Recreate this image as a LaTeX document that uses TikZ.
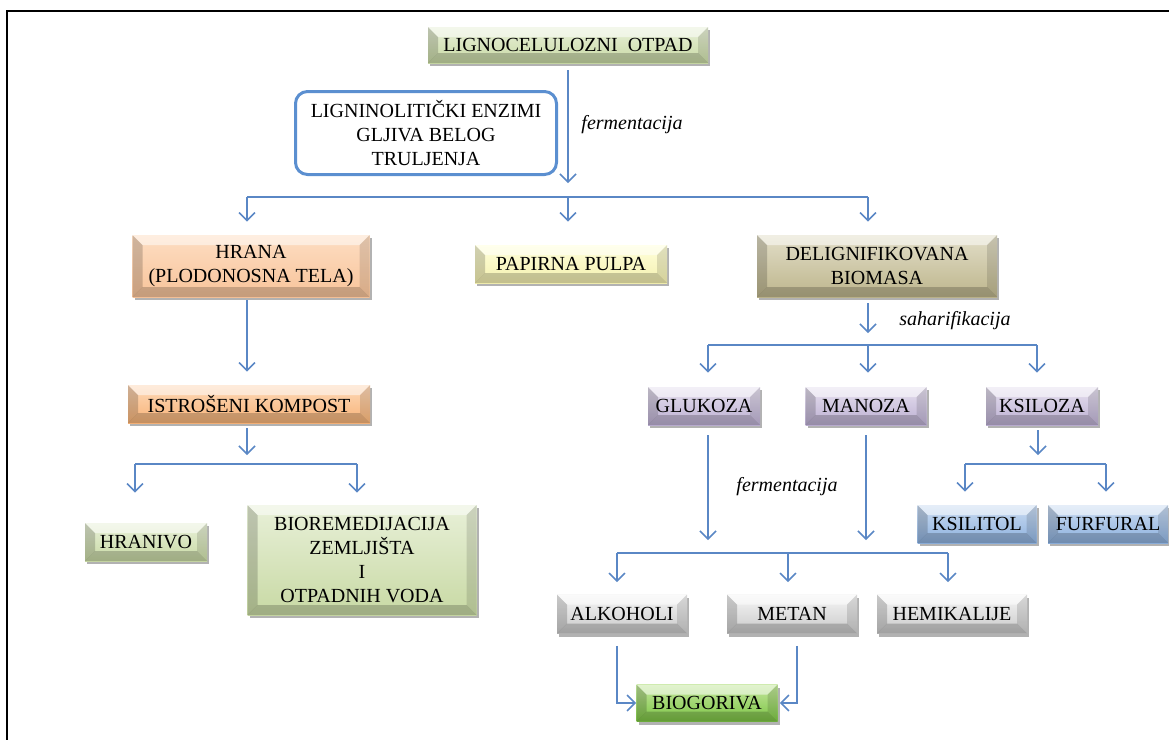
\documentclass[tikz,border=0pt]{standalone}
\usepackage{fontspec}
\setmainfont{Liberation Serif}
\usepackage{tikz}
\usetikzlibrary{arrows.meta, calc, positioning, shadows}

\definecolor{flowblue}{HTML}{5A87C5}
\definecolor{enzblue}{HTML}{5B8FD0}
\definecolor{greenA}{HTML}{E8F0D8}
\definecolor{greenB}{HTML}{C8D9A4}
\definecolor{peachA}{HTML}{FDDDC2}
\definecolor{peachB}{HTML}{F8C49A}
\definecolor{orangeA}{HTML}{FDD8B8}
\definecolor{orangeB}{HTML}{F8B478}
\definecolor{yellowA}{HTML}{FFFFDA}
\definecolor{yellowB}{HTML}{F4F0B0}
\definecolor{khakiA}{HTML}{E2DEC8}
\definecolor{khakiB}{HTML}{BDB58C}
\definecolor{lilacA}{HTML}{E6E0EF}
\definecolor{lilacB}{HTML}{BCAFD2}
\definecolor{skyA}{HTML}{CBDCF2}
\definecolor{skyB}{HTML}{8CB0DD}
\definecolor{greyA}{HTML}{F6F6F6}
\definecolor{greyB}{HTML}{C9C9C9}
\definecolor{limeA}{HTML}{C4E79E}
\definecolor{limeB}{HTML}{7CC443}

\begin{document}
\begin{tikzpicture}[
  x=0.5pt, y=-0.5pt,
  every node/.style={font=\fontsize{10}{12}\selectfont, align=center},
  flow/.style={draw=flowblue, line width=0.75pt, -{Straight Barb[length=4pt,width=8pt]}},
  bar/.style={draw=flowblue, line width=0.75pt},
  bevel/.style={path picture={
    \fill[white, opacity=0.5] (path picture bounding box.north west) -- (path picture bounding box.north east)
      -- ([xshift=-5pt,yshift=-5pt]path picture bounding box.north east) -- ([xshift=5pt,yshift=-5pt]path picture bounding box.north west) -- cycle;
    \fill[black, opacity=0.18] (path picture bounding box.north west) -- ([xshift=5pt,yshift=-5pt]path picture bounding box.north west)
      -- ([xshift=5pt,yshift=5pt]path picture bounding box.south west) -- (path picture bounding box.south west) -- cycle;
    \fill[black, opacity=0.2] (path picture bounding box.south west) -- (path picture bounding box.south east)
      -- ([xshift=-5pt,yshift=5pt]path picture bounding box.south east) -- ([xshift=5pt,yshift=5pt]path picture bounding box.south west) -- cycle;
    \fill[black, opacity=0.12] (path picture bounding box.north east) -- (path picture bounding box.south east)
      -- ([xshift=-5pt,yshift=5pt]path picture bounding box.south east) -- ([xshift=-5pt,yshift=-5pt]path picture bounding box.north east) -- cycle;
  }},
  box/.style={rectangle, inner sep=2pt, bevel,
    drop shadow={shadow xshift=1pt, shadow yshift=-1.5pt, fill=black, opacity=0.3}},
  greenbox/.style={box, top color=greenA, bottom color=greenB},
  peachbox/.style={box, top color=peachA, bottom color=peachB},
  orangebox/.style={box, top color=orangeA, bottom color=orangeB},
  yellowbox/.style={box, top color=yellowA, bottom color=yellowB},
  khakibox/.style={box, top color=khakiA, bottom color=khakiB},
  lilacbox/.style={box, top color=lilacA, bottom color=lilacB},
  skybox/.style={box, top color=skyA, bottom color=skyB},
  greybox/.style={box, top color=greyA, bottom color=greyB},
  limebox/.style={box, top color=limeA, bottom color=limeB},
  enzyme/.style={rectangle, draw=enzblue, line width=1.5pt, rounded corners=6pt, fill=white},
  process label/.style={font=\fontsize{10}{12}\selectfont\itshape}
]
\useasboundingbox (0,0) rectangle (1169,740);

% frame
\draw[line width=0.75pt] (7,740) -- (7,11) -- (1169,11);

% nodes
\node[greenbox, minimum width=140pt, minimum height=18pt] (otpad) at (568,45) {LIGNOCELULOZNI\ \ OTPAD};
\node[enzyme, minimum width=130.5pt, minimum height=41.5pt] (enzimi) at (426,133) {LIGNINOLITIČKI ENZIMI\\GLJIVA BELOG\\TRULJENJA};
\node[process label] (ferm1) at (632,125) {fermentacija};

\node[peachbox, minimum width=118.5pt, minimum height=31pt] (hrana) at (251,266) {HRANA\\(PLODONOSNA TELA)};
\node[yellowbox, minimum width=96pt, minimum height=19pt] (pulpa) at (571,264) {PAPIRNA PULPA};
\node[khakibox, minimum width=120pt, minimum height=31pt] (delig) at (877,266) {DELIGNIFIKOVANA\\BIOMASA};

\node[orangebox, minimum width=121pt, minimum height=19pt] (kompost) at (249,404) {ISTROŠENI KOMPOST};
\node[greenbox, minimum width=61pt, minimum height=19pt] (hranivo) at (146,542) {HRANIVO};
\node[greenbox, minimum width=114.5pt, minimum height=55pt] (biorem) at (362,560) {BIOREMEDIJACIJA\\ZEMLJIŠTA\\I\\OTPADNIH VODA};

\node[process label] (sahar) at (955,321) {saharifikacija};
\node[lilacbox, minimum width=56pt, minimum height=19pt] (glukoza) at (704,406) {GLUKOZA};
\node[lilacbox, minimum width=60.5pt, minimum height=19pt] (manoza) at (866,406) {MANOZA};
\node[lilacbox, minimum width=56pt, minimum height=19pt] (ksiloza) at (1042,406) {KSILOZA};

\node[skybox, minimum width=59.5pt, minimum height=19pt] (ksilitol) at (977,524) {KSILITOL};
\node[skybox, minimum width=60pt, minimum height=19pt] (furfural) at (1108,524) {FURFURAL};

\node[process label] (ferm2) at (787,487) {fermentacija};
\node[greybox, minimum width=65pt, minimum height=19.5pt] (alkoholi) at (622,614) {ALKOHOLI};
\node[greybox, minimum width=65pt, minimum height=19.5pt] (metan) at (792,614) {METAN};
\node[greybox, minimum width=75pt, minimum height=19.5pt] (hemikalije) at (952,614) {HEMIKALIJE};
\node[limebox, minimum width=70.5pt, minimum height=18.5pt] (biogoriva) at (707,703) {BIOGORIVA};

% fork points
\coordinate (f1) at (568,197);
\coordinate (f1l) at (247,197);
\coordinate (f1r) at (868,197);
\coordinate (f2) at (247,464);
\coordinate (f2l) at (135,464);
\coordinate (f2r) at (357,464);
\coordinate (f3) at (868,345);
\coordinate (f3l) at (708,345);
\coordinate (f3r) at (1037,345);
\coordinate (f4) at (1038,464);
\coordinate (f4l) at (965,464);
\coordinate (f4r) at (1106,464);
\coordinate (f5a) at (708,553);
\coordinate (f5b) at (866,553);
\coordinate (f5l) at (617,553);
\coordinate (f5m) at (788,553);
\coordinate (f5r) at (948,553);

% connectors
\draw[flow, shorten <=3.5pt, shorten >=7pt] (otpad) -- (f1);
\draw[bar] (f1l) -- (f1r);
\draw[flow, shorten >=6.5pt] (f1l) -- (f1l |- hrana.north);
\draw[flow, shorten >=11.5pt] (f1) -- (f1 |- pulpa.north);
\draw[flow, shorten >=6.5pt] (f1r) -- (f1r |- delig.north);

\draw[flow, shorten <=1.5pt, shorten >=6.5pt] (f1l |- hrana.south) -- (f1l |- kompost.north);
\draw[flow, shorten <=2.5pt, shorten >=4.5pt] (f2 |- kompost.south) -- (f2);
\draw[bar] (f2l) -- (f2r);
\draw[flow, shorten >=15pt] (f2l) -- (f2l |- hranivo.north);
\draw[flow, shorten >=6pt] (f2r) -- (f2r |- biorem.north);

\draw[flow, shorten <=3pt, shorten >=6pt] (f3 |- delig.south) -- (f3);
\draw[bar] (f3l) -- (f3r);
\draw[flow, shorten >=7pt] (f3l) -- (f3l |- glukoza.north);
\draw[flow, shorten >=7pt] (f3) -- (f3 |- manoza.north);
\draw[flow, shorten >=7pt] (f3r) -- (f3r |- ksiloza.north);

\draw[flow, shorten <=2.5pt, shorten >=4.5pt] (f4 |- ksiloza.south) -- (f4);
\draw[bar] (f4l) -- (f4r);
\draw[flow, shorten >=6.5pt] (f4l) -- (f4l |- ksilitol.north);
\draw[flow, shorten >=6.5pt] (f4r) -- (f4r |- furfural.north);

\draw[flow, shorten <=5pt, shorten >=6.5pt] (f5a |- glukoza.south) -- (f5a);
\draw[flow, shorten <=5pt, shorten >=6.5pt] (f5b |- manoza.south) -- (f5b);
\draw[bar] (f5l) -- (f5r);
\draw[flow, shorten >=6pt] (f5l) -- (f5l |- alkoholi.north);
\draw[flow, shorten >=6pt] (f5m) -- (f5m |- metan.north);
\draw[flow, shorten >=6pt] (f5r) -- (f5r |- hemikalije.north);

\draw[flow, shorten <=6pt] (f5l |- alkoholi.south) |- (biogoriva.west);
\draw[flow, shorten <=6pt, shorten >=1pt] ([xshift=2.5pt]metan.south) |- (biogoriva.east);

\end{tikzpicture}
\end{document}
